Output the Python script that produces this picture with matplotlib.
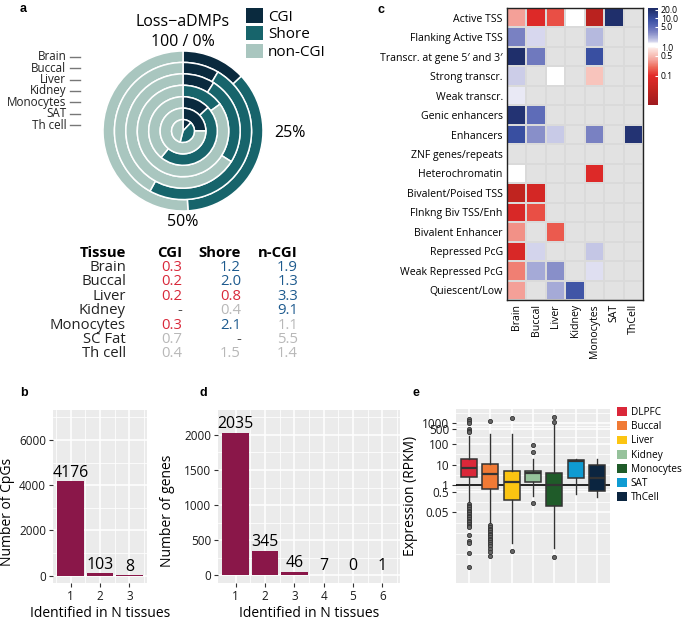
import numpy as np
import matplotlib
matplotlib.use("Agg")
import matplotlib.pyplot as plt
from matplotlib.colors import LinearSegmentedColormap, LogNorm
from matplotlib.patches import Patch
from matplotlib.ticker import FixedLocator, NullFormatter

plt.rcParams['font.family'] = ['Open Sans', 'DejaVu Sans']

W, H = 685, 622
def fx(x): return x / W
def fy(y): return 1 - y / H
def box(l, t, r, b): return [fx(l), fy(b), (r - l) / W, (b - t) / H]

# ---- panel a: share of loss-aDMPs by region (percent of ring)
ring_tissues = ["Brain", "Buccal", "Liver", "Kidney", "Monocytes", "SAT", "Th cell"]
cgi_pct = [13, 8.5, 9, 0, 13, 25, 12]
shore_pct = [36, 49.5, 25, 15, 48, 0, 42]
noncgi_pct = [51, 42, 66, 85, 39, 75, 46]
region_names = ["CGI", "Shore", "non-CGI"]
region_colors = ["#0a2a3e", "#17646b", "#a9c6bf"]

# ---- panel a table
table_tissues = ["Brain", "Buccal", "Liver", "Kidney", "Monocytes", "SC Fat", "Th cell"]
table_cgi = ["0.3", "0.2", "0.2", "-", "0.3", "0.7", "0.4"]
table_shore = ["1.2", "2.0", "0.8", "0.4", "2.1", "-", "1.5"]
table_ncgi = ["1.9", "1.3", "3.3", "9.1", "1.1", "5.5", "1.4"]
sig_cgi = ["lo", "lo", "lo", "na", "lo", "ns", "ns"]
sig_shore = ["hi", "hi", "lo", "ns", "hi", "na", "ns"]
sig_ncgi = ["hi", "hi", "hi", "hi", "ns", "ns", "ns"]
sig_colors = {"lo": "#d8283a", "hi": "#1d5a8e", "ns": "#b8b8b8", "na": "#555555"}

# ---- panel c: chromatin state enrichment
states = ["Active TSS", "Flanking Active TSS", "Transcr. at gene 5\u2032 and 3\u2032",
          "Strong transcr.", "Weak transcr.", "Genic enhancers", "Enhancers",
          "ZNF genes/repeats", "Heterochromatin", "Bivalent/Poised TSS",
          "Flnkng Biv TSS/Enh", "Bivalent Enhancer", "Repressed PcG",
          "Weak Repressed PcG", "Quiescent/Low"]
hm_tissues = ["Brain", "Buccal", "Liver", "Kidney", "Monocytes", "SAT", "ThCell"]
nan = np.nan
enrich = np.array([
    [0.35, 0.08, 0.15, 1.15, 0.025, 20, nan],
    [3.5, 1.5, nan, nan, 2.0, nan, nan],
    [20, 4.0, nan, nan, 9.0, nan, nan],
    [1.65, nan, 1.15, nan, 0.55, nan, nan],
    [1.4, nan, nan, nan, nan, nan, nan],
    [18, 5.0, nan, nan, nan, nan, nan],
    [9.0, 3.0, 1.7, nan, 3.5, nan, 18],
    [nan, nan, nan, nan, nan, nan, nan],
    [1.15, nan, nan, nan, 0.08, nan, nan],
    [0.03, 0.06, nan, nan, nan, nan, nan],
    [0.07, 0.15, nan, nan, nan, nan, nan],
    [0.3, nan, 0.17, nan, nan, nan, nan],
    [0.07, 1.55, nan, nan, 1.75, nan, nan],
    [0.25, 2.3, 3.0, nan, 1.45, nan, nan],
    [0.35, nan, 2.3, 8.0, nan, nan, nan],
])
cbar_ticks = [20, 10, 5, 1, 0.5, 0.1]
cbar_labels = ["20.0", "10.0", "5.0", "1.0", "0.5", "0.1"]

# ---- panels b and d
n_tissues_b = [1, 2, 3]
n_cpgs = [4176, 103, 8]
n_tissues_d = [1, 2, 3, 4, 5, 6]
n_genes = [2035, 345, 46, 7, 0, 1]
bar_color = "#8a1749"

# ---- panel e: expression boxplots (log10 RPKM)
expr_tissues = ["DLPFC", "Buccal", "Liver", "Kidney", "Monocytes", "SAT", "ThCell"]
expr_colors = ["#da2739", "#f07a35", "#fcc512", "#96c29b", "#1f5b29", "#0f9bd2", "#0b2540"]
med_log = [0.85, 0.56, 0.16, 0.58, 0.02, 1.16, 0.35]
q1_log = [0.42, -0.16, -0.72, 0.18, -0.97, 0.34, -0.27]
q3_log = [1.26, 1.01, 0.69, 0.69, 0.61, 1.21, 0.97]
lo_log = [-0.84, -1.85, -2.77, -0.52, -3.01, -0.43, -0.55]
hi_log = [2.38, 2.50, 2.46, 1.26, 2.95, 1.26, 1.26]
fliers_log = [
    [3.19, 3.11, 3.03, 2.71, 2.62, 2.55, -0.9, -0.98, -1.06, -1.14, -1.22, -1.3,
     -1.38, -1.46, -1.54, -1.62, -1.7, -1.78, -1.86, -1.94, -2.02, -2.37, -2.69,
     -2.77, -3.26, -3.93],
    [3.11, -1.92, -2.0, -2.08, -2.16, -2.24, -2.32, -2.4, -2.48, -2.56, -2.64,
     -2.72, -2.8, -2.9, -3.05, -3.2, -3.38],
    [3.27, -3.18],
    [1.95, 1.61, -0.87],
    [3.32, 3.07, -3.45],
    [],
    [],
]
expr_ticks = [0.05, 0.5, 1, 10, 100, 500, 1000]
expr_ticklabels = ["0.05", "0.5", "1", "10", "100", "500", "1000"]

fig = plt.figure(figsize=(6.85, 6.22), dpi=100)

# ================= panel a donut
cx, cy, R = 183, 131, 80
ax_a = fig.add_axes(box(cx - 95, cy - 95, cx + 95, cy + 95))
n_rings = len(ring_tissues)
for i in range(n_rings):
    r_out = (n_rings - i) / n_rings
    ax_a.pie([cgi_pct[i], shore_pct[i], noncgi_pct[i]], radius=r_out,
             startangle=90, counterclock=False, colors=region_colors,
             wedgeprops=dict(width=1 / n_rings, edgecolor="white", linewidth=1.1))
    r_c = r_out - 0.5 / n_rings
    ax_a.plot([-1.41, -1.29], [r_c, r_c], color="#777777", lw=1, clip_on=False)
    ax_a.text(-1.46, r_c, ring_tissues[i], ha="right", va="center",
              fontsize=8.4, color="#222222", clip_on=False)
lim = 95 / R
ax_a.set_xlim(-lim, lim)
ax_a.set_ylim(-lim, lim)
ax_a.set_aspect("equal")
ax_a.axis("off")
ax_a.text(0, (cy - 22) / R, "Loss\u2212aDMPs", ha="center", va="center", fontsize=11.5, clip_on=False)
ax_a.text(0, (cy - 42) / R, "100 / 0%", ha="center", va="center", fontsize=11.5, clip_on=False)
ax_a.text((290 - cx) / R, (cy - 133) / R, "25%", ha="center", va="center", fontsize=11.5, clip_on=False)
ax_a.text(0, (cy - 222) / R, "50%", ha="center", va="center", fontsize=11.5, clip_on=False)
handles_a = [Patch(facecolor=c, edgecolor="none", label=n) for c, n in zip(region_colors, region_names)]
ax_a.legend(handles=handles_a, loc="upper left", bbox_to_anchor=(fx(246), fy(8)),
            bbox_transform=fig.transFigure, frameon=False, fontsize=11,
            handlelength=1.1, handleheight=1.1, labelspacing=0.08,
            handletextpad=0.35, borderpad=0, borderaxespad=0)

# table
col_x = [126, 182, 241, 298]
hdr = ["Tissue", "CGI", "Shore", "n-CGI"]
for x, t in zip(col_x, hdr):
    fig.text(fx(x), fy(253), t, ha="right", va="center", fontsize=10.7, fontweight="bold")
for j, t in enumerate(table_tissues):
    y = 267.5 + j * 14.4
    fig.text(fx(col_x[0]), fy(y), t, ha="right", va="center", fontsize=10.7, color="#222222")
    for x, vals, sig in zip(col_x[1:], [table_cgi, table_shore, table_ncgi],
                            [sig_cgi, sig_shore, sig_ncgi]):
        fig.text(fx(x), fy(y), vals[j], ha="right", va="center", fontsize=10.7,
                 color=sig_colors[sig[j]])

# ================= panel c heatmap
nodes = [(0.0, "#9e1a1f"), (0.147, "#c0241f"), (0.302, "#e32a2a"), (0.391, "#ee6a5a"),
         (0.463, "#f4a098"), (0.521, "#f8c4bc"), (0.585, "#fde8e4"), (0.598, "#ffffff"),
         (0.634, "#ffffff"), (0.650, "#d8d8ee"), (0.687, "#b4b8de"), (0.759, "#7a82c2"),
         (0.804, "#5e6cb8"), (0.880, "#3a50a2"), (0.982, "#1f2f6c"), (1.0, "#1d2c68")]
cmap = LinearSegmentedColormap.from_list("enr", nodes)
na_gray = "#e2e2e2"
cmap.set_bad(na_gray)
norm = LogNorm(vmin=0.0095, vmax=23)
ax_c = fig.add_axes(box(507, 8, 643, 300))
ax_c.set_facecolor(na_gray)
mesh = ax_c.pcolormesh(np.ma.masked_invalid(enrich), cmap=cmap, norm=norm,
                       edgecolors="#dadada", linewidth=0.3)
ax_c.set_xlim(0, len(hm_tissues))
ax_c.set_ylim(len(states), 0)
ax_c.set_xticks(np.arange(len(hm_tissues)) + 0.5)
ax_c.set_xticklabels(hm_tissues, rotation=90, fontsize=7.6)
ax_c.set_yticks(np.arange(len(states)) + 0.5)
ax_c.set_yticklabels(states, fontsize=7.6)
ax_c.tick_params(length=0, pad=3)
for s in ax_c.spines.values():
    s.set_color("#222222")
    s.set_linewidth(1)
cax = fig.add_axes(box(648, 8, 658, 105))
cb = fig.colorbar(mesh, cax=cax)
cb.ax.minorticks_off()
cb.set_ticks(cbar_ticks)
cb.set_ticklabels(cbar_labels)
cb.ax.tick_params(labelsize=6.2, length=2.5, width=0.8, color="white", direction="in", pad=2)
cb.outline.set_visible(False)

# ================= panels b, d
def gg_axes(ax):
    ax.set_facecolor("#ebebeb")
    for s in ax.spines.values():
        s.set_visible(False)
    ax.grid(which="major", color="white", lw=1.1)
    ax.grid(which="minor", color="white", lw=0.55)
    ax.set_axisbelow(True)
    ax.tick_params(which="major", length=3, width=0.8, color="#333333",
                   labelsize=8.5, labelcolor="#1a1a1a", pad=2)
    ax.tick_params(which="minor", length=0)

ax_b = fig.add_axes(box(53, 410, 147, 583))
gg_axes(ax_b)
bars = ax_b.bar(n_tissues_b, n_cpgs, width=0.9, color=bar_color)
ax_b.bar_label(bars, padding=0.5, fontsize=11.4)
ax_b.set_xlim(0.4, 3.6)
ax_b.set_ylim(-330, 7330)
ax_b.set_xticks(n_tissues_b)
ax_b.set_yticks([0, 2000, 4000, 6000])
ax_b.xaxis.set_minor_locator(FixedLocator([0.5, 1.5, 2.5, 3.5]))
ax_b.yaxis.set_minor_locator(FixedLocator([1000, 3000, 5000, 7000]))
ax_b.set_ylabel("Number of CpGs", fontsize=10)
ax_b.yaxis.set_label_coords(-0.40, 0.41)
ax_b.set_xlabel("Identified in N tissues", fontsize=10)
ax_b.xaxis.set_label_coords(0.5, -0.135)

ax_d = fig.add_axes(box(218, 410, 400, 583))
gg_axes(ax_d)
bars = ax_d.bar(n_tissues_d, n_genes, width=0.9, color=bar_color)
ax_d.bar_label(bars, padding=0.5, fontsize=11.4)
ax_d.set_xlim(0.4, 6.6)
ax_d.set_ylim(-114, 2357)
ax_d.set_xticks(n_tissues_d)
ax_d.set_yticks([0, 500, 1000, 1500, 2000])
ax_d.xaxis.set_minor_locator(FixedLocator([1.5, 2.5, 3.5, 4.5, 5.5, 6.5]))
ax_d.yaxis.set_minor_locator(FixedLocator([250, 750, 1250, 1750, 2250]))
ax_d.set_ylabel("Number of genes", fontsize=10)
ax_d.yaxis.set_label_coords(-0.236, 0.42)
ax_d.set_xlabel("Identified in N tissues", fontsize=10)
ax_d.xaxis.set_label_coords(0.5, -0.135)

# ================= panel e
ax_e = fig.add_axes(box(456, 409, 610, 583))
gg_axes(ax_e)
ax_e.set_yscale("log")
stats = []
for i in range(len(expr_tissues)):
    stats.append(dict(med=10 ** med_log[i], q1=10 ** q1_log[i], q3=10 ** q3_log[i],
                      whislo=10 ** lo_log[i], whishi=10 ** hi_log[i],
                      fliers=[10 ** v for v in fliers_log[i]]))
positions = np.arange(1, len(expr_tissues) + 1)
ax_e.axhline(1, color="black", lw=1.2, zorder=1.5)
bp = ax_e.bxp(stats, positions=positions, widths=0.75, patch_artist=True, showcaps=False,
              boxprops=dict(edgecolor="#333333", linewidth=1.1),
              medianprops=dict(color="#333333", linewidth=1.6),
              whiskerprops=dict(color="#333333", linewidth=1.0),
              flierprops=dict(marker="o", markersize=3, markerfacecolor="#666666",
                              markeredgecolor="#333333", markeredgewidth=0.6))
for patch, c in zip(bp["boxes"], expr_colors):
    patch.set_facecolor(c)
ax_e.set_xlim(0.4, 7.6)
ax_e.set_ylim(2e-5, 4800)
ax_e.yaxis.set_major_locator(FixedLocator(expr_ticks))
ax_e.set_yticklabels(expr_ticklabels)
ax_e.yaxis.set_minor_locator(FixedLocator([0.0005, 0.005, 0.0158, 0.158, 0.707, 3.16, 31.6, 224, 707, 3162]))
ax_e.yaxis.set_minor_formatter(NullFormatter())
ax_e.set_xticks(positions)
ax_e.tick_params(axis="x", length=0, labelbottom=False)
ax_e.set_ylabel("Expression (RPKM)", fontsize=10)
ax_e.yaxis.set_label_coords(-0.247, 0.5)
handles_e = [Patch(facecolor=c, edgecolor="none", label=n) for c, n in zip(expr_colors, expr_tissues)]
ax_e.legend(handles=handles_e, loc="upper left", bbox_to_anchor=(fx(617), fy(407)),
            bbox_transform=fig.transFigure, frameon=False, fontsize=7.2,
            handlelength=1.0, handleheight=1.0, labelspacing=0.32,
            handletextpad=0.35, borderpad=0, borderaxespad=0)

# panel letters
for letter, (x, y) in zip("abcde", [(20, 9), (20, 393), (378, 10), (200, 393), (413, 393)]):
    fig.text(fx(x), fy(y), letter, fontsize=9, fontweight="bold", family="Liberation Sans",
             ha="left", va="center")

fig.savefig("out.png", dpi=100)
